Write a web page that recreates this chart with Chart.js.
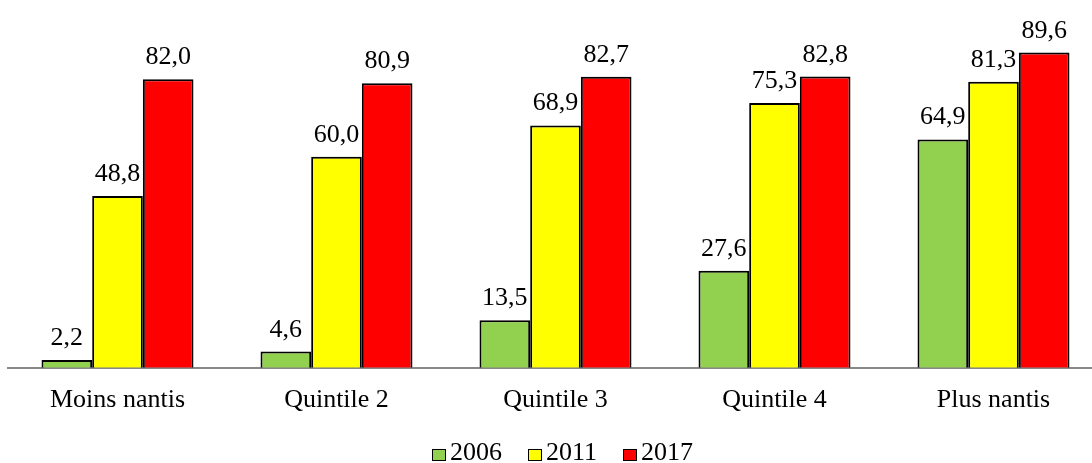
<!DOCTYPE html>
<html>
<head>
<meta charset="utf-8">
<script src="https://cdn.jsdelivr.net/npm/chart.js@4/dist/chart.umd.min.js"></script>
<style>
  html, body { margin: 0; padding: 0; background: #fff; overflow: hidden; }
  #wrap { position: relative; width: 1092px; height: 463px; overflow: hidden; }
  #chart { position: absolute; left: 0; top: 0; }
  #legend {
    position: absolute; left: 0; top: 437px; width: 1125px;
    display: flex; justify-content: center;
    font-family: "Liberation Serif", "Times New Roman", serif; font-size: 26px; color: #000;
  }
  #legend .item { display: flex; align-items: center; margin: 0 13px; }
  #legend .box { width: 12px; height: 10px; border: 1.5px solid #000; margin-right: 4px; margin-top: 5px; }
</style>
</head>
<body>
<div id="wrap">
  <canvas id="chart" width="1110" height="463"></canvas>
  <div id="legend"></div>
</div>
<script>
const categories = ['Moins nantis', 'Quintile 2', 'Quintile 3', 'Quintile 4', 'Plus nantis'];
const years = ['2006', '2011', '2017'];
const values2006 = [2.2, 4.6, 13.5, 27.6, 64.9];
const values2011 = [48.8, 60.0, 68.9, 75.3, 81.3];
const values2017 = [82.0, 80.9, 82.7, 82.8, 89.6];
const colors = ['#92D050', '#FFFF00', '#FF0000'];

const SERIF = '"Liberation Serif", "Times New Roman", serif';

// --- value labels above each bar ---
const barLabels = {
  id: 'barLabels',
  afterDatasetsDraw(chart) {
    const ctx = chart.ctx;
    ctx.save();
    ctx.font = '26px ' + SERIF;
    ctx.fillStyle = '#000';
    ctx.textAlign = 'center';
    ctx.textBaseline = 'alphabetic';
    chart.data.datasets.forEach((ds, i) => {
      chart.getDatasetMeta(i).data.forEach((bar, j) => {
        const txt = ds.data[j].toFixed(1).replace('.', ',');
        ctx.fillText(txt, bar.x, bar.y - 15);
      });
    });
    ctx.restore();
  }
};

const seriesData = [values2006, values2011, values2017];

new Chart(document.getElementById('chart'), {
  type: 'bar',
  data: {
    labels: categories,
    datasets: years.map((y, i) => ({
      label: y,
      data: seriesData[i],
      backgroundColor: colors[i],
      borderColor: '#000',
      borderWidth: 2,
      borderSkipped: 'bottom',
      categoryPercentage: 0.694,
      barPercentage: 1.0
    }))
  },
  options: {
    responsive: false,
    animation: false,
    layout: { padding: { left: 8, right: 7, top: 16, bottom: 30 } },
    plugins: { legend: { display: false }, tooltip: { enabled: false } },
    scales: {
      x: {
        grid: { display: false, drawTicks: false },
        border: { display: true, color: '#888', width: 2 },
        ticks: { color: '#000', font: { family: SERIF, size: 26 }, padding: 17, maxRotation: 0 }
      },
      y: {
        display: false,
        min: 0,
        max: 100
      }
    }
  },
  plugins: [barLabels]
});

// --- legend ---
document.getElementById('legend').innerHTML = years.map((y, i) => `
  <div class="item"><span class="box" style="background:${colors[i]}"></span>${y}</div>
`).join('');
</script>
</body>
</html>
